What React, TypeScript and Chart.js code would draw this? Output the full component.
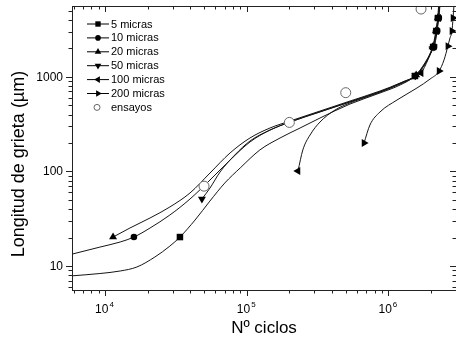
import React, { useEffect, useRef } from 'react';
import { Chart, registerables } from 'chart.js';

Chart.register(...registerables);

const FONT = "'Liberation Sans', Arial, Helvetica, sans-serif";

const seriesLabels = ['5 micras', '10 micras', '20 micras', '50 micras', '100 micras', '200 micras'];
const ensayosLabel = 'ensayos';

// 5 micras
const s5X = [5850, 9200, 12800, 16800, 22500, 28700, 33800, 43200, 55000, 70000, 90000, 124000, 172000, 238000, 329000, 536000, 872000, 1210000, 1540000, 1810000, 2000000, 2070000, 2140000, 2180000, 2210000, 2240000, 2270000];
const s5Y = [7.9, 8.36, 8.89, 9.8, 12.5, 16.3, 20.3, 30.7, 48.7, 75.5, 109, 169, 226, 288, 367, 516, 675, 820, 1020, 1365, 1830, 2070, 2570, 3050, 3610, 4180, 5600];
const s5Marks = [6, 18, 21, 23, 25];

// 10 micras
const s10X = [5850, 9200, 12800, 16000, 20800, 28700, 39800, 55100, 76300, 105500, 146000, 202000, 329000, 536000, 872000, 1210000, 1540000, 1810000, 2000000, 2100000, 2170000, 2210000, 2240000, 2270000, 2310000];
const s10Y = [13.4, 15.9, 18.0, 20.3, 25.3, 34.7, 51.2, 81.3, 132, 205, 274, 333, 425, 542, 690, 839, 1020, 1400, 1830, 2070, 2570, 3050, 3610, 4180, 5600];
const s10Marks = [3, 16, 19, 21, 23];

// 20 micras
const s20X = [11400, 15000, 20800, 28700, 39800, 55100, 76300, 105500, 146000, 202000, 329000, 536000, 872000, 1210000, 1570000, 1850000, 2050000, 2120000, 2160000, 2200000, 2230000, 2260000];
const s20Y = [20.3, 25.3, 32.3, 42.2, 59.3, 96.4, 157, 226, 288, 341, 435, 555, 708, 860, 1045, 1430, 2070, 2570, 3050, 3610, 4180, 5600];
const s20Marks = [0, 14, 16, 18, 20];

// 50 micras
const s50X = [48300, 55100, 64800, 82300, 105500, 146000, 202000, 329000, 536000, 872000, 1210000, 1550000, 1830000, 2020000, 2090000, 2150000, 2190000, 2220000, 2250000, 2290000];
const s50Y = [51.2, 66.9, 98.6, 149, 210, 274, 333, 428, 546, 698, 848, 1030, 1410, 1850, 2070, 2570, 3050, 3610, 4180, 5600];
const s50Marks = [0, 11, 14, 16, 18];

// 100 micras
const s100X = [230000, 249000, 280000, 329000, 420000, 581000, 872000, 1310000, 1700000, 1900000, 2060000, 2140000, 2190000, 2230000, 2260000, 2300000];
const s100Y = [101, 169, 243, 333, 446, 555, 690, 903, 1100, 1510, 2070, 2570, 3050, 3610, 4180, 5600];
const s100Marks = [0, 8, 10, 12, 14];

// 200 micras
const s200X = [673000, 741000, 872000, 1150000, 1590000, 1970000, 2280000, 2470000, 2630000, 2720000, 2810000, 2860000, 2900000];
const s200Y = [200, 310, 425, 569, 762, 948, 1150, 1510, 2110, 2570, 3050, 4180, 5600];
const s200Marks = [0, 6, 8, 10, 11];

// ensayos (experiments)
const ensayosX = [50000, 200000, 500000, 1700000];
const ensayosY = [70, 330, 680, 5200];

const xTickValues = [1e4, 1e5, 1e6];
const xTickBase = ['10', '10', '10'];
const xTickExps = ['4', '5', '6'];
const yTickValues = [10, 100, 1000];
const yTickLabels = ['10', '100', '1000'];

const xTitle = 'Nº ciclos';
const yTitle = 'Longitud de grieta (µm)';

const X_MIN = 5850;
const X_MAX = 3.0e6;
const Y_MIN = 5.6;
const Y_MAX = 5600;

type Curve = { xs: number[]; ys: number[]; marks: number[]; style: string; rot: number; r: number };

const curves: Curve[] = [
  { xs: s5X, ys: s5Y, marks: s5Marks, style: 'rect', rot: 0, r: 4.6 },
  { xs: s10X, ys: s10Y, marks: s10Marks, style: 'circle', rot: 0, r: 3.3 },
  { xs: s20X, ys: s20Y, marks: s20Marks, style: 'triangle', rot: 0, r: 4.6 },
  { xs: s50X, ys: s50Y, marks: s50Marks, style: 'triangle', rot: 180, r: 4.6 },
  { xs: s100X, ys: s100Y, marks: s100Marks, style: 'triangle', rot: 270, r: 4.6 },
  { xs: s200X, ys: s200Y, marks: s200Marks, style: 'triangle', rot: 90, r: 4.6 },
];

function drawMarker(ctx: CanvasRenderingContext2D, style: string, rot: number, x: number, y: number, r: number) {
  ctx.beginPath();
  if (style === 'rect') {
    const h = r * Math.SQRT1_2;
    ctx.rect(x - h, y - h, 2 * h, 2 * h);
  } else if (style === 'circle') {
    ctx.arc(x, y, r, 0, Math.PI * 2);
  } else {
    let a = (rot * Math.PI) / 180;
    ctx.moveTo(x + Math.sin(a) * r, y - Math.cos(a) * r);
    a += (2 * Math.PI) / 3;
    ctx.lineTo(x + Math.sin(a) * r, y - Math.cos(a) * r);
    a += (2 * Math.PI) / 3;
    ctx.lineTo(x + Math.sin(a) * r, y - Math.cos(a) * r);
    ctx.closePath();
  }
  ctx.fillStyle = '#000';
  ctx.fill();
}

const framePlugin = {
  id: 'frameTicks',
  afterDraw(chart: any) {
    const { ctx, chartArea } = chart;
    const { left, right, top, bottom } = chartArea;
    const xs = chart.scales.x;
    const ys = chart.scales.y;
    ctx.save();
    ctx.strokeStyle = '#222';
    ctx.lineWidth = 1;
    ctx.strokeRect(left + 0.5, top + 0.5, right - left, bottom - top);

    // x ticks
    for (let e = 3; e <= 6; e++) {
      for (let m = 1; m <= 9; m++) {
        const v = m * Math.pow(10, e);
        if (v < X_MIN || v > X_MAX) continue;
        const px = Math.round(xs.getPixelForValue(v)) + 0.5;
        const len = m === 1 ? 6 : 3.5;
        ctx.beginPath();
        ctx.moveTo(px, bottom);
        ctx.lineTo(px, bottom + len);
        ctx.moveTo(px, top);
        ctx.lineTo(px, top + len);
        ctx.stroke();
      }
    }
    // y ticks
    for (let e = 0; e <= 3; e++) {
      for (let m = 1; m <= 9; m++) {
        const v = m * Math.pow(10, e);
        if (v < Y_MIN || v > Y_MAX) continue;
        const py = Math.round(ys.getPixelForValue(v)) + 0.5;
        const len = m === 1 ? 6 : 3.5;
        ctx.beginPath();
        ctx.moveTo(left - len, py);
        ctx.lineTo(left, py);
        ctx.moveTo(right - len, py);
        ctx.lineTo(right, py);
        ctx.stroke();
      }
    }

    ctx.fillStyle = '#000';
    // y tick labels
    ctx.font = `12px ${FONT}`;
    ctx.textAlign = 'right';
    ctx.textBaseline = 'middle';
    yTickValues.forEach((v, i) => {
      ctx.fillText(yTickLabels[i], 63, ys.getPixelForValue(v) + 0.5);
    });

    // x tick labels with superscript exponent
    ctx.textBaseline = 'alphabetic';
    xTickValues.forEach((v, i) => {
      const px = xs.getPixelForValue(v);
      ctx.font = `12px ${FONT}`;
      const wb = ctx.measureText(xTickBase[i]).width;
      ctx.font = `8px ${FONT}`;
      const we = ctx.measureText(xTickExps[i]).width;
      const x0 = px - (wb + we) / 2 - 1;
      ctx.font = `12px ${FONT}`;
      ctx.textAlign = 'left';
      ctx.fillText(xTickBase[i], x0, 313);
      ctx.font = `8px ${FONT}`;
      ctx.fillText(xTickExps[i], x0 + wb + 1, 307);
    });

    // axis titles
    ctx.font = `17px ${FONT}`;
    ctx.textAlign = 'center';
    ctx.fillText(xTitle, (left + right) / 2, 333);
    ctx.save();
    ctx.translate(19, 164);
    ctx.rotate(-Math.PI / 2);
    ctx.font = `18px ${FONT}`;
    ctx.textAlign = 'center';
    ctx.textBaseline = 'middle';
    ctx.fillText(yTitle, 0, 0);
    ctx.restore();

    // legend
    ctx.font = `11px ${FONT}`;
    ctx.textAlign = 'left';
    ctx.textBaseline = 'middle';
    const lx0 = 87, lx1 = 109, lxm = 98, lxt = 111, ly0 = 24, ldy = 13.9;
    seriesLabels.forEach((lab, i) => {
      const y = ly0 + i * ldy;
      ctx.strokeStyle = '#000';
      ctx.lineWidth = 1;
      ctx.beginPath();
      ctx.moveTo(lx0, y);
      ctx.lineTo(lx1, y);
      ctx.stroke();
      const c = curves[i];
      drawMarker(ctx, c.style, c.rot, lxm, y, c.style === 'circle' ? 2.8 : 3.8);
      ctx.fillStyle = '#000';
      ctx.fillText(lab, lxt, y + 0.5);
    });
    const ey = ly0 + 6 * ldy;
    ctx.beginPath();
    ctx.arc(lxm - 1, ey, 3, 0, Math.PI * 2);
    ctx.fillStyle = '#fff';
    ctx.fill();
    ctx.strokeStyle = '#666';
    ctx.lineWidth = 1;
    ctx.stroke();
    ctx.fillStyle = '#000';
    ctx.fillText(ensayosLabel, lxt, ey + 0.5);
    ctx.restore();
  },
};

export default function App() {
  const ref = useRef<HTMLCanvasElement>(null);
  useEffect(() => {
    if (!ref.current) return;
    const datasets: any[] = curves.map((c, i) => ({
      label: seriesLabels[i],
      data: c.xs.map((x, j) => ({ x, y: c.ys[j] })),
      borderColor: '#151515',
      borderWidth: 1,
      backgroundColor: '#000',
      pointBackgroundColor: '#000',
      pointBorderColor: '#000',
      pointBorderWidth: 0,
      pointStyle: c.style,
      pointRotation: c.rot,
      pointRadius: c.xs.map((_, j) => (c.marks.includes(j) ? c.r : 0)),
      pointHoverRadius: 0,
      cubicInterpolationMode: 'monotone',
      fill: false,
      order: 1,
    }));
    datasets.push({
      label: ensayosLabel,
      data: ensayosX.map((x, j) => ({ x, y: ensayosY[j] })),
      showLine: false,
      pointStyle: 'circle',
      pointRadius: 5,
      pointBackgroundColor: '#fff',
      pointBorderColor: '#666',
      pointBorderWidth: 1,
      order: -1,
    });
    const chart = new Chart(ref.current, {
      type: 'line',
      data: { datasets },
      options: {
        animation: false,
        responsive: false,
        devicePixelRatio: 1,
        layout: { autoPadding: false, padding: { top: 6, right: 0, left: 0, bottom: 0 } },
        plugins: { legend: { display: false }, tooltip: { enabled: false } },
        scales: {
          x: {
            type: 'logarithmic',
            min: X_MIN,
            max: X_MAX,
            grid: { display: false, drawTicks: false },
            border: { display: false },
            ticks: { display: false },
            afterFit: (s: any) => { s.height = 55; },
          },
          y: {
            type: 'logarithmic',
            min: Y_MIN,
            max: Y_MAX,
            grid: { display: false, drawTicks: false },
            border: { display: false },
            ticks: { display: false },
            afterFit: (s: any) => { s.width = 72; },
          },
        },
      } as any,
      plugins: [framePlugin],
    });
    return () => chart.destroy();
  }, []);
  return (
    <div style={{ position: 'absolute', left: 0, top: 0, width: 456, height: 345, background: '#fff' }}>
      <canvas ref={ref} width={456} height={345} style={{ width: 456, height: 345, display: 'block' }} />
    </div>
  );
}
